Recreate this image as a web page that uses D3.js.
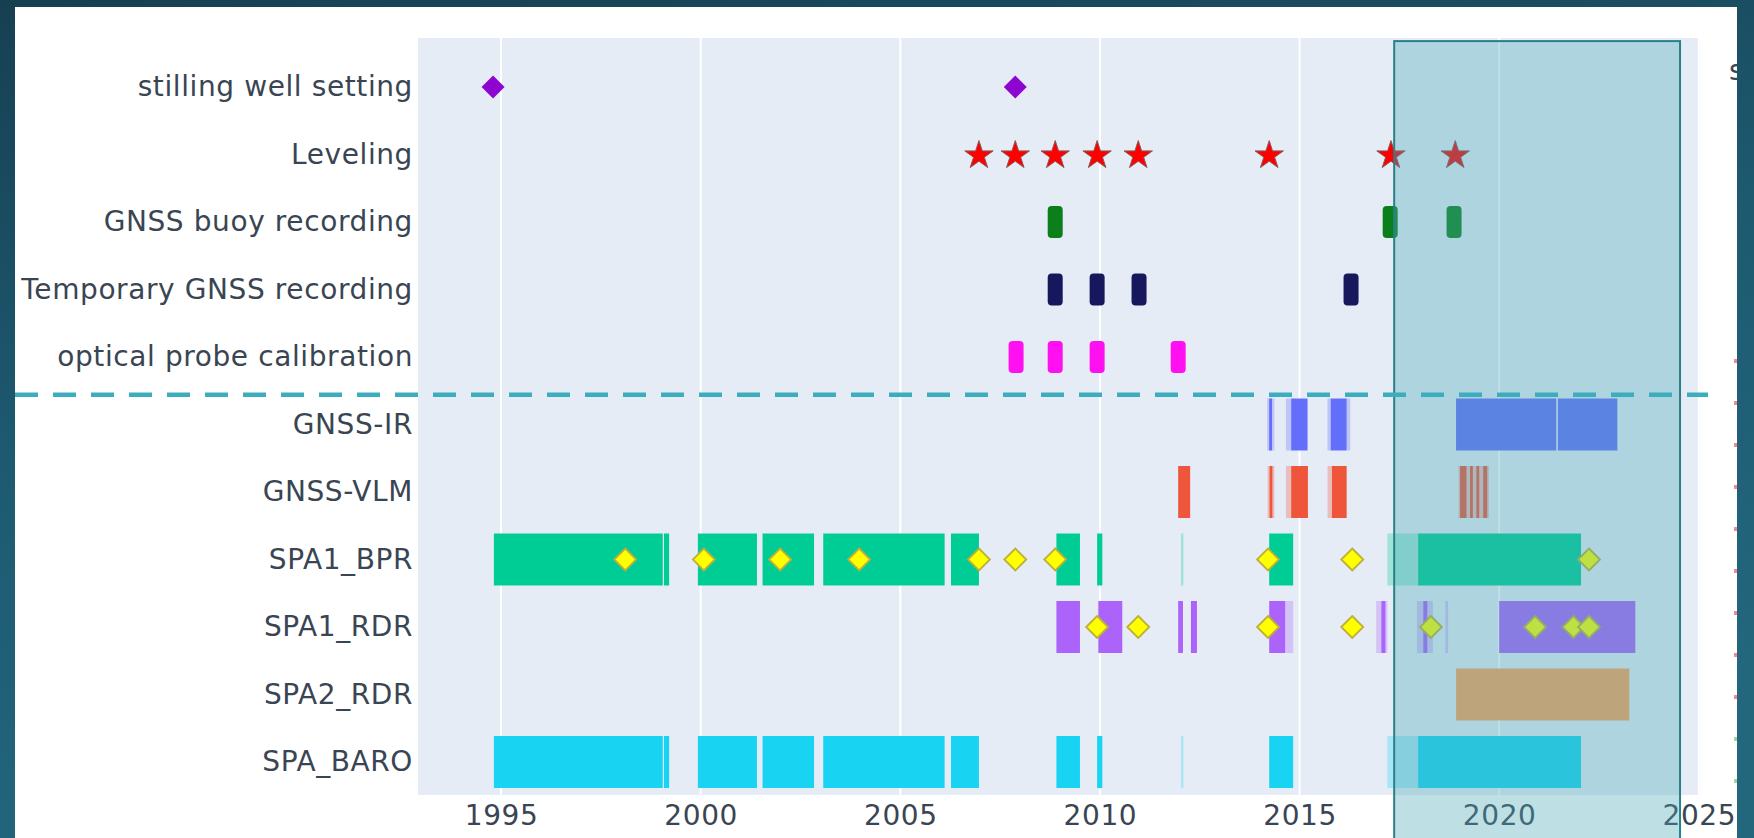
<!DOCTYPE html>
<html>
<head>
<meta charset="utf-8">
<script src="https://cdn.jsdelivr.net/npm/d3@7"></script>
<style>
  html, body { margin: 0; padding: 0; overflow: hidden; background: #1b5468; }
  svg { display: block; }
</style>
</head>
<body>
<svg id="chart" width="1754" height="838"></svg>
<script>
// ---- Data -----------------------------------------------------------------
const categories = [
  "stilling well setting", "Leveling", "GNSS buoy recording",
  "Temporary GNSS recording", "optical probe calibration",
  "GNSS-IR", "GNSS-VLM", "SPA1_BPR", "SPA1_RDR", "SPA2_RDR", "SPA_BARO"
];
const xTicks = [1995, 2000, 2005, 2010, 2015, 2020, 2025];
const xDomain = [1992.92, 2025.03];

// one-off operations (decimal years)
const stillingWellDates = [1994.80, 2007.88];
const levelingDates     = [2006.97, 2007.88, 2008.88, 2009.93, 2010.96, 2014.24, 2017.29, 2018.90];
const gnssBuoyDates     = [2008.88, 2017.27, 2018.87];
const tempGnssDates     = [2008.88, 2009.93, 2010.98, 2016.29];
const opticalProbeDates = [2007.90, 2008.88, 2009.93, 2011.96];

// recording periods [start, end]
const gnssIrPeriods = [[2014.24, 2014.31], [2014.79, 2015.20], [2015.78, 2016.18], [2018.92, 2021.43], [2021.47, 2022.96]];
const gnssIrPartial = [[2014.19, 2014.37], [2014.66, 2014.79], [2015.70, 2015.78], [2016.18, 2016.27]];

const gnssVlmPeriods = [[2011.96, 2012.26], [2014.25, 2014.32], [2014.79, 2015.21], [2015.81, 2016.18],
                        [2019.02, 2019.18], [2019.27, 2019.34], [2019.43, 2019.50], [2019.60, 2019.70]];
const gnssVlmPartial = [[2014.20, 2014.37], [2014.66, 2014.79], [2015.70, 2015.81], [2018.98, 2019.74]];

const bprPeriods = [[1994.82, 1999.05], [1999.08, 1999.21], [1999.93, 2001.41], [2001.55, 2002.84],
                    [2003.07, 2006.11], [2006.27, 2006.97], [2008.91, 2009.50], [2009.93, 2010.06],
                    [2014.24, 2014.84], [2017.97, 2022.05]];
const bprPartial = [[2012.03, 2012.09], [2017.20, 2017.97]];

const rdr1Periods = [[2008.91, 2009.50], [2009.96, 2010.56], [2011.96, 2012.08], [2012.28, 2012.43],
                     [2014.24, 2014.64], [2017.05, 2017.15], [2018.10, 2018.20], [2020.00, 2023.41]];
const rdr1Partial = [[2014.64, 2014.84], [2016.92, 2017.20], [2017.94, 2018.34], [2018.65, 2018.72]];

const rdr2Periods = [[2018.92, 2023.26]];
const rdr2Partial = [];

const baroPeriods = [[1994.82, 1999.05], [1999.08, 1999.21], [1999.93, 2001.41], [2001.55, 2002.84],
                     [2003.07, 2006.11], [2006.27, 2006.97], [2008.91, 2009.50], [2009.93, 2010.06],
                     [2014.24, 2014.84], [2017.97, 2022.05]];
const baroPartial = [[2012.03, 2012.09], [2017.20, 2017.97]];

// sensor checks on the pressure and radar records
const bprChecks = [1998.11, 2000.08, 2001.99, 2003.97, 2006.97, 2007.88, 2008.88, 2014.21, 2016.32, 2022.25];
const rdrChecks = [2009.93, 2010.96, 2014.21, 2016.32, 2018.29, 2020.90, 2021.86, 2022.25];

// highlighted recent period
const focusPeriod = [2017.37, 2024.53];

// legend entries partly hidden at the right edge
const legendColors = ["#ef6a7a", "#ef6a7a", "#ef6a7a", "#ef6a7a", "#ef6a7a", "#ef6a7a", "#ef6a7a", "#ef6a7a", "#ef6a7a", "#7fcf8a", "#7fcf8a"];

// ---- Layout ---------------------------------------------------------------
const W = 1754, H = 838;
const card = { x: 15, y: 7, w: 1722, h: 840 };
const plot = { left: 418, right: 1700, top: 38, bottom: 795 };
const FONT = "'DejaVu Sans', Verdana, sans-serif";
const FONT_SIZE = 28;
const LETTER_SPACING = 0.6;
const TEXT = "#3a4553";

const svg = d3.select("#chart");
const defs = svg.append("defs");

// slide background
const bg = defs.append("linearGradient").attr("id", "bg")
  .attr("x1", 0).attr("y1", 0).attr("x2", 0.3).attr("y2", 1);
bg.append("stop").attr("offset", 0).attr("stop-color", "#173f52");
bg.append("stop").attr("offset", 0.5).attr("stop-color", "#1d5a70");
bg.append("stop").attr("offset", 1).attr("stop-color", "#23677d");
svg.append("rect").attr("width", W).attr("height", H).attr("fill", "url(#bg)");

defs.append("clipPath").attr("id", "cardClip")
  .append("rect").attr("x", card.x).attr("y", card.y).attr("width", card.w).attr("height", card.h);

const root = svg.append("g").attr("clip-path", "url(#cardClip)");
root.append("rect").attr("x", card.x).attr("y", card.y).attr("width", card.w).attr("height", card.h).attr("fill", "#ffffff");

// scales
const x = d3.scaleLinear().domain(xDomain).range([plot.left, plot.right]);
const y = d3.scalePoint().domain(categories).range([87, 762]);
const step = y.step();
const barH = step * 0.77;

// plot background + grid
root.append("rect")
  .attr("x", plot.left).attr("y", plot.top)
  .attr("width", plot.right - plot.left).attr("height", plot.bottom - plot.top)
  .attr("fill", "#e5ecf6");

root.append("g").selectAll("line").data(xTicks).join("line")
  .attr("x1", d => x(d)).attr("x2", d => x(d))
  .attr("y1", plot.top).attr("y2", plot.bottom)
  .attr("stroke", "#ffffff").attr("stroke-width", 2);

// period bars
const rows = [
  { cat: "GNSS-IR",  color: "#636efa", full: gnssIrPeriods,  part: gnssIrPartial },
  { cat: "GNSS-VLM", color: "#ef553b", full: gnssVlmPeriods, part: gnssVlmPartial },
  { cat: "SPA1_BPR", color: "#00cc96", full: bprPeriods,     part: bprPartial },
  { cat: "SPA1_RDR", color: "#ab63fa", full: rdr1Periods,    part: rdr1Partial },
  { cat: "SPA2_RDR", color: "#ffa15a", full: rdr2Periods,    part: rdr2Partial },
  { cat: "SPA_BARO", color: "#19d3f3", full: baroPeriods,    part: baroPartial }
];
const barsG = root.append("g");
rows.forEach(r => {
  barsG.append("g").selectAll("rect").data(r.part).join("rect")
    .attr("x", d => x(d[0])).attr("width", d => Math.max(1, x(d[1]) - x(d[0])))
    .attr("y", y(r.cat) - barH / 2).attr("height", barH)
    .attr("fill", r.color).attr("opacity", 0.3);
  barsG.append("g").selectAll("rect").data(r.full).join("rect")
    .attr("x", d => x(d[0])).attr("width", d => Math.max(1.5, x(d[1]) - x(d[0])))
    .attr("y", y(r.cat) - barH / 2).attr("height", barH)
    .attr("fill", r.color);
});

// short campaign markers
const ticks = [
  { cat: "GNSS buoy recording",       color: "#0a7f1a", dates: gnssBuoyDates },
  { cat: "Temporary GNSS recording",  color: "#17175e", dates: tempGnssDates },
  { cat: "optical probe calibration", color: "#ff10f0", dates: opticalProbeDates }
];
ticks.forEach(t => {
  root.append("g").selectAll("rect").data(t.dates).join("rect")
    .attr("x", d => x(d) - 7.5).attr("width", 15)
    .attr("y", y(t.cat) - 16).attr("height", 32)
    .attr("rx", 4).attr("fill", t.color);
});

// diamonds
const diamond = r => `M0,${-r}L${r},0L0,${r}L${-r},0Z`;
root.append("g").selectAll("path").data(stillingWellDates).join("path")
  .attr("transform", d => `translate(${x(d)},${y("stilling well setting")})`)
  .attr("d", diamond(11.5)).attr("fill", "#8e05cf");

// leveling stars
const star = d3.symbol().type(d3.symbolStar).size(250);
root.append("g").selectAll("path").data(levelingDates).join("path")
  .attr("transform", d => `translate(${x(d)},${y("Leveling") + 1})`)
  .attr("d", star).attr("fill", "#ff0000")
  .attr("stroke", "#8a5a5a").attr("stroke-width", 1);

// check markers
[["SPA1_BPR", bprChecks], ["SPA1_RDR", rdrChecks]].forEach(([cat, dates]) => {
  root.append("g").selectAll("path").data(dates).join("path")
    .attr("transform", d => `translate(${x(d)},${y(cat)})`)
    .attr("d", diamond(11)).attr("fill", "#ffff00")
    .attr("stroke", "#bdb03a").attr("stroke-width", 1.8);
});

// axes
const styleText = sel => sel
  .attr("font-family", FONT).attr("font-size", FONT_SIZE)
  .attr("letter-spacing", LETTER_SPACING).attr("fill", TEXT);

const yAxis = root.append("g")
  .attr("transform", `translate(${plot.left - 5},0)`)
  .call(d3.axisLeft(y).tickSize(0).tickPadding(0));
yAxis.select(".domain").remove();
yAxis.selectAll("text").call(styleText);

const xAxis = root.append("g")
  .attr("transform", `translate(0,${plot.bottom})`)
  .call(d3.axisBottom(x).tickValues(xTicks).tickFormat(d3.format("d")).tickSize(0).tickPadding(10));
xAxis.select(".domain").remove();
xAxis.selectAll("text").call(styleText);

// legend, mostly outside the visible card
root.append("text").attr("x", 1729).attr("y", 80).call(styleText).text("s");
root.append("g").selectAll("rect").data(legendColors).join("rect")
  .attr("x", 1734).attr("width", 3)
  .attr("y", (d, i) => 359 + i * 42).attr("height", 4)
  .attr("fill", d => d).attr("opacity", 0.8);

// highlighted recent period
const focusTop = y(categories[0]) - step * 0.68;
root.append("rect")
  .attr("x", x(focusPeriod[0])).attr("width", x(focusPeriod[1]) - x(focusPeriod[0]))
  .attr("y", focusTop).attr("height", H - focusTop + 10)
  .attr("fill", "rgb(75,169,184)").attr("fill-opacity", 0.36)
  .attr("stroke", "#2a8088").attr("stroke-width", 2);

// separator between one-off operations and continuous records
const sepY = y("optical probe calibration") + step * 0.56;
root.append("line")
  .attr("x1", card.x).attr("x2", plot.right + 8)
  .attr("y1", sepY).attr("y2", sepY)
  .attr("stroke", "#3badbd").attr("stroke-width", 4.5)
  .attr("stroke-dasharray", "23 15");
</script>
</body>
</html>
